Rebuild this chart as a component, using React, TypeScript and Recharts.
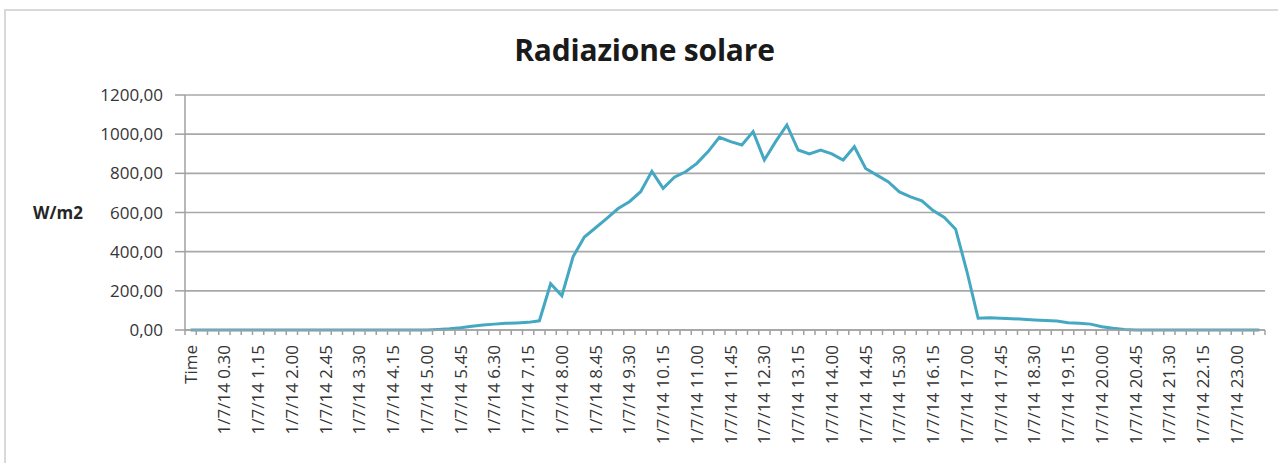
import React from "react";
import { LineChart, Line, XAxis, YAxis, CartesianGrid } from "recharts";

// 15-minute slots of 1 July 2014, preceded by the header cell "Time"
const timeSlots = Array.from(
  { length: 95 },
  (_, k) => `1/7/14 ${Math.floor(k / 4)}.${String((k % 4) * 15).padStart(2, "0")}`
);
const categories = ["Time", ...timeSlots];

// W/m2, one value per category
const radiation = [
  0, 0, 0, 0, 0, 0, 0, 0, 0, 0, 0, 0, 0, 0, 0, 0, 0, 0, 0, 0, 0, 0,
  3, 6, 11, 19, 26, 30, 34, 36, 39, 47, 236, 175, 375, 475, 522, 570,
  620, 655, 706, 810, 723, 780, 808, 851, 911, 984, 962, 945, 1013, 868,
  962, 1047, 919, 899, 919, 899, 868, 936, 825, 791, 757, 705, 680, 660,
  610, 575, 515, 300, 60, 63, 60, 58, 55, 51, 48, 46, 37, 34, 30, 17, 9, 3,
  0, 0, 0, 0, 0, 0, 0, 0, 0, 0, 0, 0,
];

const yTicks = [0, 200, 400, 600, 800, 1000, 1200];

const data = categories.map((time, i) => ({ time, value: radiation[i] }));

const W = 1278;
const H = 463;
const PLOT_LEFT = 185;
const PLOT_RIGHT = 1265;
const HALF = (PLOT_RIGHT - PLOT_LEFT) / categories.length / 2;

const fmt = (v: number) => v.toFixed(2).replace(".", ",");

function TimeTick(props: any) {
  const { x, y, payload, index } = props;
  const last = index === categories.length - 1;
  return (
    <g>
      <line x1={x - HALF} y1={y} x2={x - HALF} y2={y + 5} stroke="#a0a0a0" strokeWidth={1.5} />
      {last && (
        <line x1={x + HALF} y1={y} x2={x + HALF} y2={y + 5} stroke="#a0a0a0" strokeWidth={1.5} />
      )}
      {index % 3 === 0 && (
        <text
          x={x}
          y={y + 15}
          dy="0.35em"
          textAnchor="end"
          transform={`rotate(-90, ${x}, ${y + 15})`}
          fill="#353535"
          fontSize={17}
        >
          {payload.value}
        </text>
      )}
    </g>
  );
}

export default function App() {
  return (
    <div
      style={{
        position: "fixed",
        left: 0,
        top: 0,
        width: W,
        height: H,
        overflow: "hidden",
        background: "#fff",
        fontFamily: "'Open Sans', sans-serif",
      }}
    >
      <div
        style={{
          position: "absolute",
          left: 4,
          top: 9,
          width: W + 20,
          height: H + 20,
          border: "2px solid #d9d9d9",
        }}
      />
      <div
        style={{
          position: "absolute",
          left: 0,
          top: 35,
          width: 1289,
          textAlign: "center",
          fontSize: 30,
          lineHeight: "30px",
          fontWeight: 700,
          color: "#1a1a1a",
          letterSpacing: -0.2,
        }}
      >
        Radiazione solare
      </div>
      <LineChart
        width={W}
        height={H}
        data={data}
        margin={{ top: 95, right: W - PLOT_RIGHT, bottom: 0, left: 0 }}
        style={{ position: "absolute", left: 0, top: 0, fontFamily: "'Open Sans', sans-serif" }}
      >
        <CartesianGrid vertical={false} stroke="#a8a8a8" strokeWidth={1.6} />
        <XAxis
          dataKey="time"
          interval={0}
          height={133}
          padding={{ left: HALF, right: HALF }}
          tickLine={false}
          tickSize={0}
          tickMargin={0}
          axisLine={{ stroke: "#a0a0a0", strokeWidth: 1.5 }}
          tick={<TimeTick />}
        />
        <YAxis
          width={PLOT_LEFT}
          domain={[0, 1200]}
          ticks={yTicks}
          tickFormatter={fmt}
          tickSize={10}
          tickMargin={12}
          axisLine={{ stroke: "#a0a0a0", strokeWidth: 1.5 }}
          tickLine={{ stroke: "#a0a0a0", strokeWidth: 1.5 }}
          tick={{ fill: "#353535", fontSize: 17 }}
          label={{
            value: "W/m2",
            position: "insideLeft",
            offset: 33,
            fill: "#262626",
            fontSize: 17,
            fontWeight: 700,
          }}
        />
        <Line
          type="linear"
          dataKey="value"
          stroke="#45a8c2"
          strokeWidth={3}
          dot={false}
          activeDot={false}
          isAnimationActive={false}
        />
      </LineChart>
    </div>
  );
}
